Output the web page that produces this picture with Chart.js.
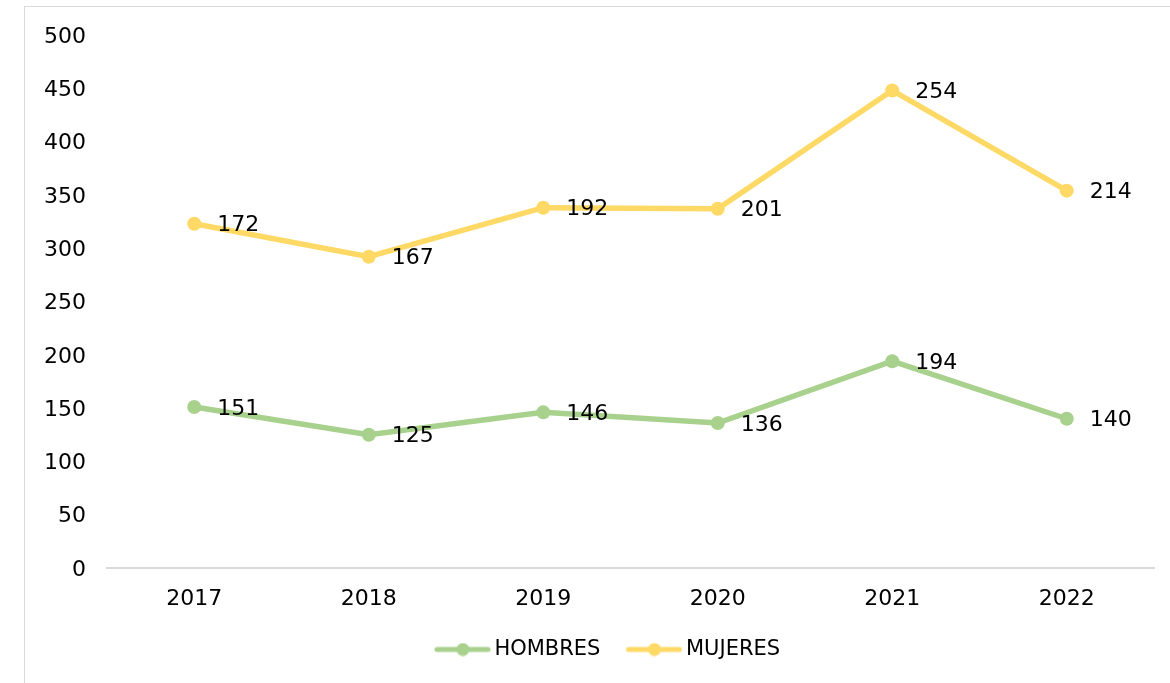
<!DOCTYPE html>
<html>
<head>
<meta charset="utf-8">
<script src="https://cdn.jsdelivr.net/npm/chart.js@4/dist/chart.umd.min.js"></script>
<style>
  html, body { margin: 0; padding: 0; background: #fff; overflow: hidden; }
  .frame {
    position: absolute; left: 24px; top: 6px; width: 1200px; height: 720px;
    border: 1px solid #d9d9d9; box-sizing: border-box;
  }
  .wrap { position: absolute; left: 0; top: 0; width: 1170px; height: 683px; }
</style>
</head>
<body>
<div class="frame"></div>
<div class="wrap"><canvas id="chart"></canvas></div>
<script>
const years = ["2017", "2018", "2019", "2020", "2021", "2022"];
const hombres = [151, 125, 146, 136, 194, 140];
const mujeres = [172, 167, 192, 201, 254, 214];
const yTicks = [0, 50, 100, 150, 200, 250, 300, 350, 400, 450, 500];

const GREEN = "#a9d18e";
const YELLOW = "#ffd966";
const FONT = "'DejaVu Sans', sans-serif";

// line-with-dot swatch for the legend; drawn right-shifted so the text sits close to it
function legendIcon(color) {
  const c = document.createElement("canvas");
  c.width = 70;
  c.height = 14;
  const ctx = c.getContext("2d");
  ctx.strokeStyle = color;
  ctx.lineWidth = 5;
  ctx.lineCap = "round";
  ctx.beginPath();
  ctx.moveTo(16, 7);
  ctx.lineTo(67, 7);
  ctx.stroke();
  ctx.fillStyle = color;
  ctx.beginPath();
  ctx.arc(42, 7, 6.5, 0, Math.PI * 2);
  ctx.fill();
  return c;
}

// value labels to the right of each point
const valueLabels = {
  id: "valueLabels",
  afterDatasetsDraw(chart) {
    const ctx = chart.ctx;
    ctx.save();
    ctx.font = "22px " + FONT;
    ctx.fillStyle = "#000";
    ctx.textAlign = "left";
    ctx.textBaseline = "middle";
    chart.data.datasets.forEach((ds, i) => {
      chart.getDatasetMeta(i).data.forEach((pt, j) => {
        ctx.fillText(String(ds.data[j]), pt.x + 23, pt.y + 2);
      });
    });
    ctx.restore();
  },
};

// nudge the legend a bit to the right, under the plot
const legendShift = {
  id: "legendShift",
  afterLayout(chart) {
    chart.legend.left += 27;
    chart.legend.right += 27;
  },
};

const lineStyle = (color) => ({
  borderColor: color,
  backgroundColor: color,
  borderWidth: 5.5,
  pointRadius: 7,
  pointBackgroundColor: color,
  pointBorderWidth: 0,
  fill: false,
});

new Chart(document.getElementById("chart"), {
  type: "line",
  data: {
    labels: years,
    datasets: [
      { label: "HOMBRES", data: hombres, ...lineStyle(GREEN) },
      { label: "MUJERES", data: mujeres, ...lineStyle(YELLOW) },
    ],
  },
  options: {
    responsive: true,
    maintainAspectRatio: false,
    animation: false,
    layout: { padding: { top: 35, right: 16, bottom: 13, left: 0 } },
    scales: {
      x: {
        offset: true,
        grid: { display: false, drawTicks: false, offset: true },
        border: { color: "#d9d9d9", width: 2 },
        ticks: { color: "#000", font: { family: FONT, size: 22 }, padding: 18 },
        afterFit: (scale) => { scale.height = 52; },
      },
      y: {
        stacked: true,
        min: 0,
        max: 500,
        afterBuildTicks: (scale) => { scale.ticks = yTicks.map((v) => ({ value: v })); },
        grid: { display: false, drawTicks: false },
        border: { display: false },
        ticks: { color: "#000", font: { family: FONT, size: 22 }, padding: 21, labelOffset: 2 },
        afterFit: (scale) => { scale.width = 107; },
      },
    },
    plugins: {
      tooltip: { enabled: false },
      legend: {
        position: "bottom",
        labels: {
          usePointStyle: true,
          pointStyleWidth: 56,
          color: "#000",
          font: { family: FONT, size: 21 },
          padding: 19,
          generateLabels: (chart) =>
            chart.data.datasets.map((ds, i) => ({
              text: ds.label,
              fillStyle: ds.borderColor,
              strokeStyle: ds.borderColor,
              lineWidth: 0,
              pointStyle: legendIcon(ds.borderColor),
              fontColor: "#000",
              hidden: false,
              datasetIndex: i,
            })),
        },
      },
    },
  },
  plugins: [valueLabels, legendShift],
});
</script>
</body>
</html>
